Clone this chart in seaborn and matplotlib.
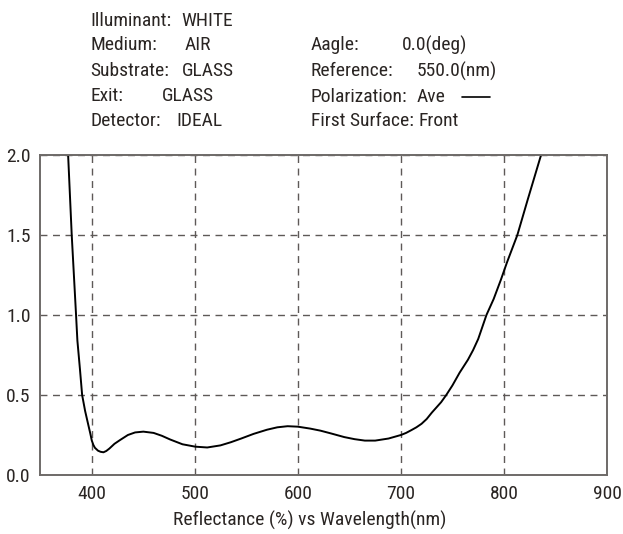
import matplotlib
matplotlib.use("Agg")
import matplotlib.pyplot as plt
from matplotlib import font_manager as fm
import seaborn as sns
import pandas as pd
from matplotlib.lines import Line2D

# ---- data ----
wavelength = [377, 380.5, 384.7, 386, 388.5, 390.6, 393.5, 396.7, 398.5, 400,
              401.5, 403, 406, 408.5, 411.3, 414, 417, 422, 427.5, 435, 442,
              450, 460, 468, 476, 488, 500.5, 512, 524.8, 535, 545, 557, 570,
              580, 590, 600, 612, 622, 632, 645, 655, 665, 675, 688, 700, 705,
              710, 715, 720, 725, 730, 739, 744, 750, 757, 765, 770, 775, 783,
              790, 797, 803, 813, 823, 836]
reflectance = [2.0, 1.5, 1.0, 0.84, 0.66, 0.5, 0.40, 0.31, 0.26, 0.215,
               0.188, 0.17, 0.152, 0.145, 0.142, 0.15, 0.165, 0.195, 0.219,
               0.25, 0.266, 0.271, 0.263, 0.245, 0.222, 0.192, 0.177, 0.172,
               0.185, 0.205, 0.228, 0.257, 0.283, 0.298, 0.305, 0.302, 0.29,
               0.277, 0.26, 0.237, 0.224, 0.215, 0.215, 0.228, 0.25, 0.263,
               0.28, 0.298, 0.32, 0.35, 0.39, 0.455, 0.5, 0.56, 0.64, 0.72,
               0.78, 0.85, 1.0, 1.1, 1.22, 1.33, 1.5, 1.72, 2.0]
x_ticks = [400, 500, 600, 700, 800, 900]
y_ticks = [0.0, 0.5, 1.0, 1.5, 2.0]

info_left_labels = ["Illuminant:", "Medium:", "Substrate:", "Exit:", "Detector:"]
info_left_values = ["WHITE", "AIR", "GLASS", "GLASS", "IDEAL"]
info_right_labels = ["Aagle:", "Reference:", "Polarization:", "First Surface:"]
info_right_values = ["0.0(deg)", "550.0(nm)", "Ave", "Front"]
x_label = "Reflectance (%) vs Wavelength(nm)"

sns.set_theme(style="white")
available = {f.name for f in fm.fontManager.ttflist}
family = "DejaVu Sans"
for cand in ["Roboto Condensed", "Archivo Narrow", "Barlow Semi Condensed", "Asap Condensed"]:
    if cand in available:
        family = cand
        break
plt.rcParams["font.family"] = [family, "DejaVu Sans"]
TXT = "#2a2523"
SPINE = "#6e6a68"
GRID = "#5e5957"
FS = 14

W, H = 623, 534
fig = plt.figure(figsize=(W / 100, H / 100), dpi=100)
L, R, T, B = 40.3, 607, 155, 475
ax = fig.add_axes([L / W, 1 - B / H, (R - L) / W, (B - T) / H])

df = pd.DataFrame({"wl": wavelength, "R": reflectance})
sns.lineplot(data=df, x="wl", y="R", ax=ax, color="black", linewidth=1.4,
             sort=False, estimator=None)

ax.set_xlim(350, 900)
ax.set_ylim(0, 2.0)
ax.set_xticks(x_ticks)
ax.set_yticks(y_ticks)
ax.set_xticklabels([str(v) for v in x_ticks])
ax.set_yticklabels([f"{v:.1f}" for v in y_ticks])
ax.tick_params(axis="both", length=0, labelsize=FS, colors=TXT)
ax.tick_params(axis="x", pad=7)
ax.tick_params(axis="y", pad=7)
ax.set_xlabel(x_label, fontsize=FS, color=TXT)
ax.xaxis.set_label_coords((310 - L) / (R - L), -(520 - B) / (B - T))
ax.xaxis.label.set_va("center")
ax.set_ylabel("")
ax.grid(True, linestyle=(0, (5, 4)), color=GRID, linewidth=1.0)
for s in ax.spines.values():
    s.set_color(SPINE)
    s.set_linewidth(1.4)
    s.set_visible(True)

def ftext(x, y, s):
    fig.text(x / W, 1 - y / H, s, fontsize=FS, color=TXT, ha="left", va="center")

left_y = [20.5, 45.5, 70.5, 96, 121]
left_vx = [181.7, 185, 181.7, 162, 176.7]
for lab, val, y, vx in zip(info_left_labels, info_left_values, left_y, left_vx):
    ftext(90, y, lab)
    ftext(vx, y, val)

right_y = [45.5, 71.5, 97, 121.5]
right_vx = [401.7, 416.7, 416.7, 418]
for lab, val, y, vx in zip(info_right_labels, info_right_values, right_y, right_vx):
    ftext(310.7, y, lab)
    ftext(vx, y, val)

fig.add_artist(Line2D([461.7 / W, 490 / W], [1 - 97 / H, 1 - 97 / H],
                      color="black", linewidth=1.2, transform=fig.transFigure))

fig.savefig("out.png", dpi=100, facecolor="white")
